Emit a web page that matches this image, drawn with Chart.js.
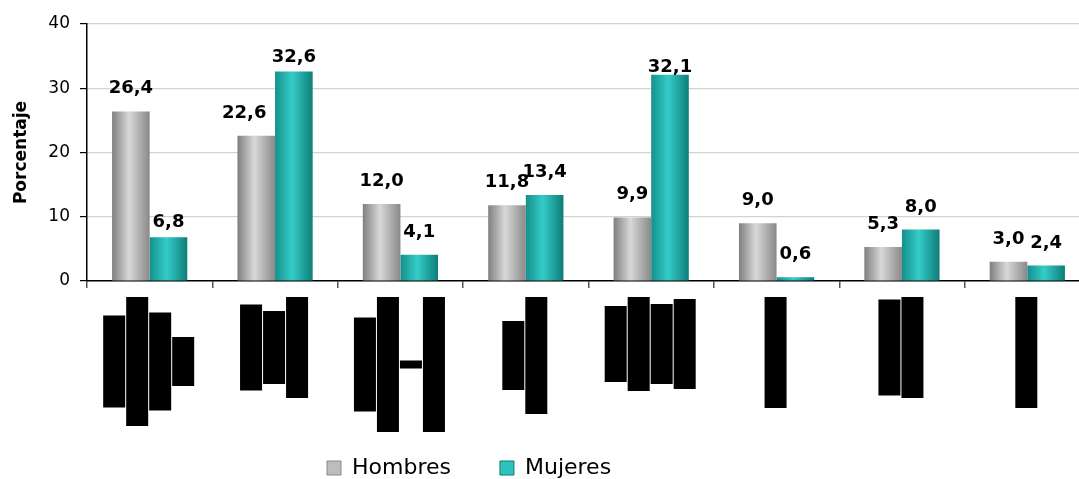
<!DOCTYPE html>
<html>
<head>
<meta charset="utf-8">
<script src="https://cdn.jsdelivr.net/npm/chart.js@4"></script>
<style>
  html, body { margin: 0; padding: 0; background: #fff; overflow: hidden; }
  canvas { display: block; }
</style>
</head>
<body>
<canvas id="chart" width="1100" height="479"></canvas>
<script>
// categories (original label text is blacked out in the reference)
const categories = ['', '', '', '', '', '', '', ''];
const hombres = [26.4, 22.6, 12.0, 11.8, 9.9, 9.0, 5.3, 3.0];
const mujeres = [6.8, 32.6, 4.1, 13.4, 32.1, 0.6, 8.0, 2.4];
const yTicks = [0, 10, 20, 30, 40];

// redacted label lines, lengths in px, one list per category
const labelRedactionLines = [
    [92, 129, 98, 49],
    [86, 73, 101],
    [94, 135, 8, 135],
    [69, 117],
    [76, 94, 80, 90],
    [111],
    [96, 101],
    [111]
];

// a few labels were moved by hand in the original: [dx, dy]
const labelNudge = { '0-1': [-12, 0], '1-0': [0, 8], '1-1': [0, 8], '1-4': [0, 15] };

const shades = [
    ['#7f7f7f', '#d8d8d8', '#898989'],
    ['#15908b', '#34ccc8', '#0e7d78']
];
const legendFill = ['#bdbdbd', '#2cc3be'];
const legendStroke = ['#8a8a8a', '#0e7d78'];
const FONT = 'DejaVu Sans';

function barFill(ctx) {
    const ds = ctx.datasetIndex;
    const chart = ctx.chart;
    if (ctx.type !== 'data' || !chart.scales.x) return shades[ds][1];
    const xs = chart.scales.x;
    const c = xs.getPixelForValue(ctx.dataIndex);
    const w = xs.width / categories.length * 0.6 / 2;
    if (!isFinite(c) || !isFinite(w) || w <= 0) return shades[ds][1];
    const left = ds === 0 ? c - w : c;
    const g = chart.ctx.createLinearGradient(left, 0, left + w, 0);
    g.addColorStop(0, shades[ds][0]);
    g.addColorStop(0.45, shades[ds][1]);
    g.addColorStop(1, shades[ds][2]);
    return g;
}

const valueLabels = {
    id: 'valueLabels',
    afterDatasetsDraw(chart) {
        const ctx = chart.ctx;
        ctx.save();
        ctx.font = 'bold 18px "' + FONT + '"';
        ctx.fillStyle = '#000';
        ctx.textAlign = 'center';
        ctx.textBaseline = 'alphabetic';
        chart.data.datasets.forEach((ds, di) => {
            chart.getDatasetMeta(di).data.forEach((bar, i) => {
                const n = labelNudge[di + '-' + i] || [0, 0];
                const txt = ds.data[i].toFixed(1).replace('.', ',');
                ctx.fillText(txt, bar.x + n[0], bar.y - 18 + n[1]);
            });
        });
        ctx.restore();
    }
};

const redactedLabels = {
    id: 'redactedLabels',
    afterDraw(chart) {
        const ctx = chart.ctx;
        const xs = chart.scales.x;
        const top = chart.chartArea.bottom + 16;
        ctx.save();
        ctx.fillStyle = '#000';
        labelRedactionLines.forEach((lines, i) => {
            const cx = xs.getPixelForValue(i) - 1;
            const maxL = Math.max(...lines);
            const mid = top + maxL / 2;
            const start = cx - (lines.length * 23 - 1) / 2;
            lines.forEach((len, j) => {
                ctx.fillRect(start + j * 23, mid - len / 2, 22, len);
            });
        });
        ctx.restore();
    }
};

const legendPlace = {
    id: 'legendPlace',
    afterLayout(chart) {
        const lg = chart.legend;
        const pad = lg.options.labels.padding;
        const h = lg.height;
        lg.left = 327 - pad;
        lg.right = lg.left + 600;
        lg.top = 468 - pad - 11;
        lg.bottom = lg.top + h;
    }
};

Chart.defaults.font.family = FONT;
Chart.defaults.color = '#000';

new Chart(document.getElementById('chart'), {
    type: 'bar',
    data: {
        labels: categories,
        datasets: [
            { label: 'Hombres', data: hombres, backgroundColor: barFill },
            { label: 'Mujeres', data: mujeres, backgroundColor: barFill }
        ]
    },
    options: {
        responsive: false,
        animation: false,
        layout: { padding: { top: 24, right: 10, left: 0, bottom: 4 } },
        datasets: { bar: { barPercentage: 1, categoryPercentage: 0.6 } },
        plugins: {
            tooltip: { enabled: false },
            legend: {
                position: 'bottom',
                align: 'start',
                labels: {
                    boxWidth: 14,
                    boxHeight: 14,
                    padding: 49,
                    color: '#000',
                    font: { size: 22, family: FONT },
                    generateLabels(chart) {
                        const items = Chart.defaults.plugins.legend.labels.generateLabels(chart);
                        items.forEach((it, i) => {
                            it.fillStyle = legendFill[i];
                            it.strokeStyle = legendStroke[i];
                            it.lineWidth = 1;
                        });
                        return items;
                    }
                }
            }
        },
        scales: {
            x: {
                grid: { display: true, drawOnChartArea: false, offset: true, tickLength: 7, tickColor: '#555', lineWidth: 1.5 },
                border: { color: '#000', width: 1.5 },
                ticks: { display: false },
                afterFit(scale) {
                    scale.height = scale.chart.height - 4 - scale.chart.legend.height - 281;
                }
            },
            y: {
                min: 0,
                max: 40,
                afterBuildTicks(scale) {
                    scale.ticks = yTicks.map(v => ({ value: v }));
                },
                grid: { color: '#d3d3d3', lineWidth: 1.2, tickLength: 7, tickColor: '#000' },
                border: { color: '#000', width: 1.5 },
                ticks: { padding: 10, font: { size: 17, family: FONT }, color: '#000' },
                title: {
                    display: true,
                    text: 'Porcentaje',
                    font: { size: 17, weight: 'bold', family: FONT },
                    color: '#000',
                    padding: { top: 11, bottom: 0 }
                },
                afterFit(scale) {
                    scale.width = 87;
                }
            }
        }
    },
    plugins: [valueLabels, redactedLabels, legendPlace]
});
</script>
</body>
</html>
